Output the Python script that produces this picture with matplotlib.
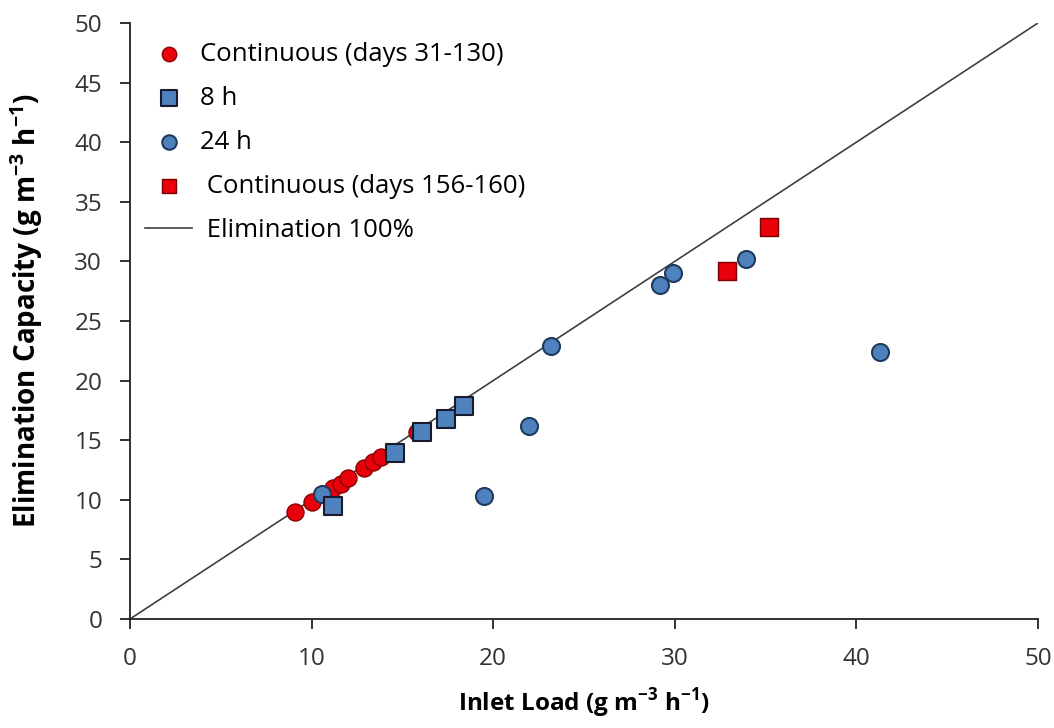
import matplotlib
matplotlib.use("Agg")
import matplotlib.pyplot as plt

plt.rcParams['font.family'] = ['Open Sans', 'DejaVu Sans']
plt.rcParams['mathtext.fontset'] = 'custom'
plt.rcParams['mathtext.rm'] = 'Open Sans'
plt.rcParams['mathtext.bf'] = 'Open Sans:bold'

cont1_x = [9.1, 10.0, 11.2, 11.6, 12.0, 12.9, 13.4, 13.8, 15.8]
cont1_y = [9.0, 9.8, 11.0, 11.3, 11.8, 12.7, 13.2, 13.6, 15.7]
h8_x = [11.2, 14.6, 16.1, 17.4, 18.4]
h8_y = [9.5, 13.9, 15.7, 16.8, 17.9]
h24_x = [10.6, 19.5, 22.0, 23.2, 29.2, 29.9, 33.9, 41.3]
h24_y = [10.5, 10.3, 16.2, 22.9, 28.0, 29.0, 30.2, 22.4]
cont2_x = [32.9, 35.2]
cont2_y = [29.2, 32.9]
line_x = [0, 50]
line_y = [0, 50]

fig = plt.figure(figsize=(10.54, 7.28), dpi=100)
ax = fig.add_axes([0.1233, 0.1497, 0.8615, 0.8187])

ax.plot(line_x, line_y, color='#404040', lw=1.2, label=' Elimination 100%', zorder=1)
ax.scatter(cont1_x, cont1_y, s=150, marker='o', facecolor='#e8000b', edgecolor='#8b0000', lw=1, zorder=3, label='Continuous (days 31-130)')
ax.scatter(h24_x, h24_y, s=150, marker='o', facecolor='#4f81bd', edgecolor='#1f3a5f', lw=1.5, zorder=3, label='24 h')
ax.scatter(h8_x, h8_y, s=170, marker='s', facecolor='#4f81bd', edgecolor='#1a1a2e', lw=1.5, zorder=4, label='8 h')
ax.scatter(cont2_x, cont2_y, s=150, marker='s', facecolor='#e8000b', edgecolor='#7a0000', lw=1, zorder=4, label=' Continuous (days 156-160)')

ax.set_xlim(0, 50)
ax.set_ylim(0, 50)
ax.set_xticks(range(0, 51, 10))
ax.set_yticks(range(0, 51, 5))
for s in ['top', 'right']:
    ax.spines[s].set_visible(False)
for s in ['left', 'bottom']:
    ax.spines[s].set_color('#222222')
    ax.spines[s].set_linewidth(1.3)
ax.tick_params(labelsize=17.5, direction='out', length=7, width=1.3, color='#222222',
               labelcolor='#333333', pad=13)
ax.set_xlabel('Inlet Load (g m$^{\\mathbf{-3}}$ h$^{\\mathbf{-1}}$)', fontsize=17.5, fontweight='bold')
ax.set_ylabel('Elimination Capacity (g m$^{\\mathbf{-3}}$ h$^{\\mathbf{-1}}$)', fontsize=20, fontweight='bold')
ax.xaxis.set_label_coords(0.5, -0.113)
ax.yaxis.set_label_coords(-0.094, 0.517)

h, l = ax.get_legend_handles_labels()
order = [1, 3, 2, 4, 0]
leg = ax.legend([h[i] for i in order], [l[i] for i in order], loc='upper left', frameon=False,
                fontsize=18.5, markerscale=0.85, handlelength=1.85, handletextpad=0.3,
                labelspacing=0.74, borderaxespad=0, borderpad=0,
                bbox_to_anchor=(0.0165, 0.968))

fig.savefig('out.png', dpi=100)
